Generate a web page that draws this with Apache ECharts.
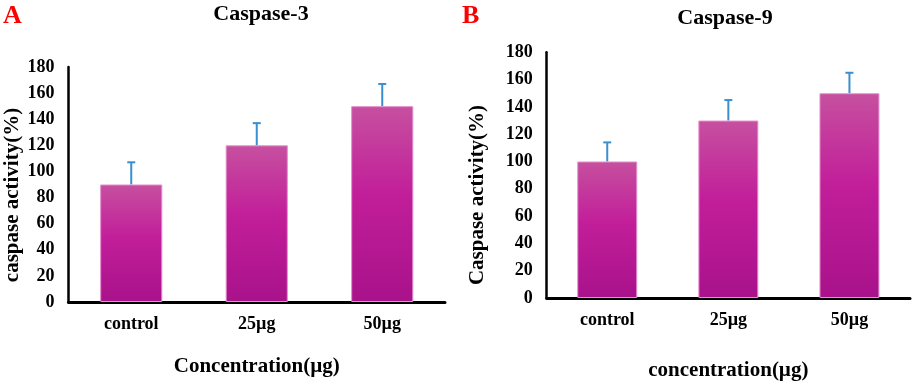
<!DOCTYPE html>
<html>
<head>
<meta charset="utf-8">
<script src="https://cdn.jsdelivr.net/npm/echarts@6/dist/echarts.min.js"></script>
<style>html,body{margin:0;padding:0;background:#fff;}#c{width:913px;height:386px;}</style>
</head>
<body>
<div id="c"></div>
<script>
var categories = ['control', '25\u00b5g', '50\u00b5g'];
var caspase3 = [90, 120, 150];
var caspase3Err = [17, 17, 17];
var caspase9 = [100, 130, 150];
var caspase9Err = [14, 15, 15];
var yTicks = [0, 20, 40, 60, 80, 100, 120, 140, 160, 180];

var FONT = '"Liberation Serif", "Times New Roman", serif';
var chart = echarts.init(document.getElementById('c'), null, {renderer: 'canvas'});

var barColor = new echarts.graphic.LinearGradient(0, 0, 0, 1, [
  {offset: 0, color: '#c6509f'},
  {offset: 0.45, color: '#c21e9a'},
  {offset: 1, color: '#a8128a'}
]);

function errData(vals, errs) {
  return vals.map(function (v, i) { return [i, v, v + errs[i]]; });
}
function renderErr(params, api) {
  var p0 = api.coord([api.value(0), api.value(1)]);
  var p1 = api.coord([api.value(0), api.value(2)]);
  var style = {stroke: '#3a8fcf', lineWidth: 2};
  return {
    type: 'group',
    children: [
      {type: 'line', shape: {x1: p0[0], y1: p0[1], x2: p1[0], y2: p1[1]}, style: style},
      {type: 'line', shape: {x1: p1[0] - 4, y1: p1[1], x2: p1[0] + 4, y2: p1[1]}, style: style}
    ]
  };
}

function xAxis(gi, name, gap) {
  return {
    gridIndex: gi, type: 'category', data: categories,
    name: name, nameLocation: 'middle', nameGap: gap,
    nameTextStyle: {fontFamily: FONT, fontWeight: 'bold', fontSize: 21, color: '#000'},
    axisLine: {lineStyle: {color: '#000', width: 3}},
    axisTick: {show: false},
    axisLabel: {fontFamily: FONT, fontWeight: 'bold', fontSize: 18, color: '#000', margin: 13}
  };
}
function yAxis(gi) {
  return {
    gridIndex: gi, type: 'value', min: yTicks[0], max: yTicks[yTicks.length - 1], interval: 20,
    axisLine: {show: true, lineStyle: {color: '#000', width: 2.5}},
    axisTick: {show: false},
    splitLine: {show: false},
    axisLabel: {fontFamily: FONT, fontWeight: 'bold', fontSize: 18, color: '#000', margin: 14}
  };
}

var option = {
  animation: false,
  backgroundColor: '#fff',
  grid: [
    {left: 68.5, right: 468, top: 67, bottom: 84},
    {left: 546.7, right: 3, top: 52.3, bottom: 82.7}
  ],
  xAxis: [xAxis(0, 'Concentration(\u00b5g)', 54), xAxis(1, 'concentration(\u00b5g)', 62)],
  yAxis: [yAxis(0), yAxis(1)],
  graphic: [
    {type: 'text', x: 3, y: 3, style: {text: 'A', font: 'bold 26px ' + FONT, fill: '#ff0000'}},
    {type: 'text', x: 462, y: 3, style: {text: 'B', font: 'bold 26px ' + FONT, fill: '#ff0000'}},
    {type: 'text', x: 261, y: 3, style: {text: 'Caspase-3', font: 'bold 22px ' + FONT, fill: '#000', textAlign: 'center'}},
    {type: 'text', x: 725, y: 7, style: {text: 'Caspase-9', font: 'bold 22px ' + FONT, fill: '#000', textAlign: 'center'}},
    {type: 'text', x: 13, y: 195, rotation: Math.PI / 2,
     style: {text: 'caspase activity(%)', font: 'bold 21px ' + FONT, fill: '#000', textAlign: 'center', textVerticalAlign: 'middle'}},
    {type: 'text', x: 478, y: 195, rotation: Math.PI / 2,
     style: {text: 'Caspase activity(%)', font: 'bold 21px ' + FONT, fill: '#000', textAlign: 'center', textVerticalAlign: 'middle'}}
  ],
  series: [
    {type: 'bar', xAxisIndex: 0, yAxisIndex: 0, data: caspase3, barWidth: '49.5%',
     itemStyle: {color: barColor, borderColor: '#e48ccf', borderWidth: 1}},
    {type: 'bar', xAxisIndex: 1, yAxisIndex: 1, data: caspase9, barWidth: '49.5%',
     itemStyle: {color: barColor, borderColor: '#e48ccf', borderWidth: 1}},
    {type: 'custom', xAxisIndex: 0, yAxisIndex: 0, data: errData(caspase3, caspase3Err), renderItem: renderErr, z: 1},
    {type: 'custom', xAxisIndex: 1, yAxisIndex: 1, data: errData(caspase9, caspase9Err), renderItem: renderErr, z: 1}
  ]
};
chart.setOption(option);
</script>
</body>
</html>
